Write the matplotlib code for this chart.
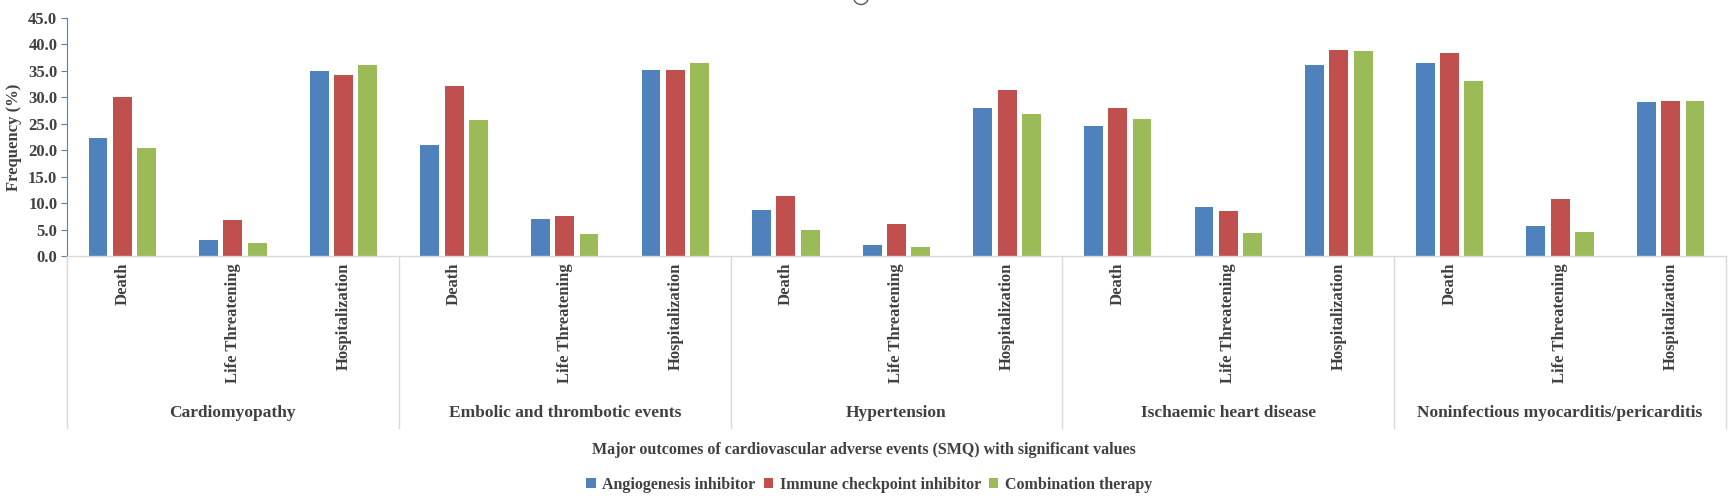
import numpy as np
import matplotlib.pyplot as plt
from matplotlib.lines import Line2D
from matplotlib.patches import Ellipse
import matplotlib.transforms as mtransforms

plt.rcParams['font.family'] = ['Liberation Serif', 'DejaVu Serif']
plt.rcParams['font.weight'] = 'bold'
plt.rcParams['axes.labelweight'] = 'bold'

# event groups (SMQ) and outcome sub-categories
groups = ['Cardiomyopathy', 'Embolic and thrombotic events', 'Hypertension',
          'Ischaemic heart disease', 'Noninfectious myocarditis/pericarditis']
outcomes = ['Death', 'Life Threatening', 'Hospitalization']

# frequency (%) per group, in order Death / Life Threatening / Hospitalization
angiogenesis = [22.4, 3.0, 35.0,
                21.0, 7.0, 35.2,
                8.7, 2.1, 28.0,
                24.6, 9.3, 36.2,
                36.4, 5.7, 29.2]
immune = [30.1, 6.8, 34.3,
          32.2, 7.6, 35.2,
          11.4, 6.1, 31.3,
          28.0, 8.5, 39.0,
          38.4, 10.8, 29.4]
combination = [20.5, 2.5, 36.2,
               25.8, 4.2, 36.4,
               4.9, 1.7, 26.9,
               25.9, 4.4, 38.8,
               33.1, 4.5, 29.4]

series_names = ['Angiogenesis inhibitor', 'Immune checkpoint inhibitor', 'Combination therapy']
colors = ['#4F81BD', '#C0504D', '#9BBB59']
text_col = '#404040'

fig = plt.figure(figsize=(17.28, 4.96), dpi=100)
ax = fig.add_axes([67 / 1728, 1 - 256 / 496, (1726 - 67) / 1728, (256 - 18) / 496])

n = len(groups) * len(outcomes)
x = np.arange(n)
width = 0.17
step = 0.22
bars = []
for k, (vals, col) in enumerate(zip([angiogenesis, immune, combination], colors)):
    b = ax.bar(x + (k - 1) * step, vals, width, color=col, label=series_names[k])
    bars.append(b)

ax.set_xlim(-0.5, n - 0.5)
ax.set_ylim(0, 45)
ax.set_yticks(np.arange(0, 45.1, 5))
ax.set_yticklabels(['%.1f' % v for v in np.arange(0, 45.1, 5)])
ax.tick_params(axis='y', colors='#4F81BD', labelcolor=text_col, labelsize=12,
               length=4, width=0.8, direction='out', pad=3)
ax.set_xticks(x)
ax.set_xticklabels(outcomes * len(groups), rotation=90, va='top', ha='center',
                   color=text_col, fontsize=12)
ax.tick_params(axis='x', length=0, pad=5)

for s in ['top', 'right']:
    ax.spines[s].set_visible(False)
ax.spines['left'].set_color('#4F81BD')
ax.spines['left'].set_linewidth(0.8)
ax.spines['bottom'].set_color('#D9D9D9')
ax.spines['bottom'].set_linewidth(1.0)

ax.set_ylabel('Frequency (%)', fontsize=12, color=text_col, labelpad=4, fontweight='bold')

# multi-level category axis: group separators and group names
trans = mtransforms.blended_transform_factory(ax.transData, ax.transAxes)
for g in range(len(groups) + 1):
    xs = g * len(outcomes) - 0.5
    ax.add_line(Line2D([xs, xs], [0, -0.723], transform=trans, color='#D9D9D9',
                       lw=1.0, clip_on=False))
for g, name in enumerate(groups):
    xc = g * len(outcomes) + 1
    ax.text(xc, -0.66, name, transform=trans, ha='center', va='center',
            fontsize=12.5, color=text_col)

fig.text(0.5, 1 - 450 / 496, 'Major outcomes of cardiovascular adverse events (SMQ) with significant values',
         ha='center', va='center', fontsize=11.5, color=text_col)

leg = fig.legend(handles=bars, loc='center', bbox_to_anchor=(0.503, 1 - 485 / 496), ncol=3,
                 frameon=False, fontsize=11.5, handlelength=0.6, handleheight=0.6,
                 handletextpad=0.4, columnspacing=0.5, borderaxespad=0)
for t in leg.get_texts():
    t.set_color(text_col)

# small circle mark at the top edge
fig.add_artist(Ellipse((861 / 1728, 1 + 3 / 496), 15 / 1728, 15 / 496,
                       transform=fig.transFigure, fill=False, edgecolor='#595959', lw=1.0))

fig.savefig('out.png', dpi=100)
